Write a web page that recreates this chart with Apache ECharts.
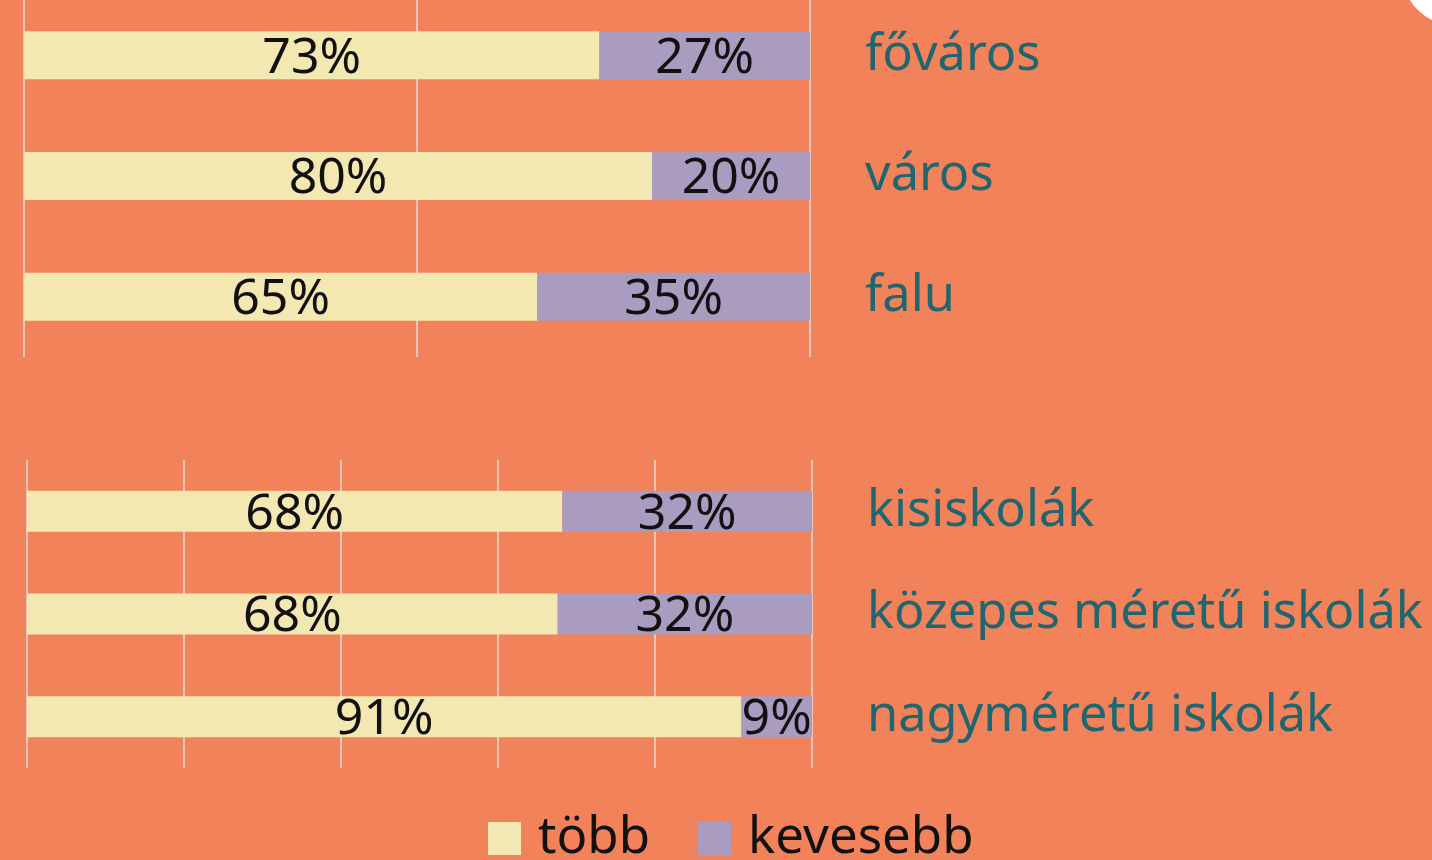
<!DOCTYPE html>
<html><head><meta charset="utf-8">
<script src="https://cdn.jsdelivr.net/npm/echarts@6/dist/echarts.min.js"></script>
<style>html,body{margin:0;padding:0;background:#F28259;}#c{width:1432px;height:860px;}</style>
</head><body><div id="c"></div>
<script>
const topCategories = ['főváros', 'város', 'falu'];
const topMore = [73.2, 79.9, 65.3];
const topLess = [26.8, 20.1, 34.7];
const bottomCategories = ['kisiskolák', 'közepes méretű iskolák', 'nagyméretű iskolák'];
const bottomMore = [68.2, 67.6, 91.0];
const bottomLess = [31.8, 32.4, 9.0];
const seriesNames = ['több', 'kevesebb'];

const FONT = 'Noto Sans';
const cMore = '#F3E8B2', cLess = '#AA9CC0', teal = '#1F6670', gridC = '#E9C6B6';
const chart = echarts.init(document.getElementById('c'));
const lbl = {show: true, position: 'inside', offset: [0, 3], color: '#111', fontSize: 50, fontFamily: FONT,
  formatter: p => Math.round(p.value) + '%'};
function xAx(gi, interval) {
  return {gridIndex: gi, type: 'value', min: 0, max: 100, interval: interval,
    axisLabel: {show: false}, axisTick: {show: false}, axisLine: {show: false},
    splitLine: {show: true, lineStyle: {color: gridC, width: 2}}};
}
function yAx(gi, cats) {
  return {gridIndex: gi, type: 'category', data: cats, inverse: true, position: 'right',
    axisLine: {show: false}, axisTick: {show: false},
    axisLabel: {color: teal, fontSize: 50.5, fontFamily: FONT, margin: 55, align: 'left'}};
}
chart.setOption({
  backgroundColor: '#F28259',
  animation: false,
  grid: [
    {left: 24, right: 622, top: -5, height: 362, outerBoundsMode: 'none', containLabel: false},
    {left: 27, right: 620, top: 460, height: 308, outerBoundsMode: 'none', containLabel: false}
  ],
  xAxis: [xAx(0, 50), xAx(1, 20)],
  yAxis: [yAx(0, topCategories), yAx(1, bottomCategories)],
  legend: {bottom: -9, left: 483, itemWidth: 33, itemHeight: 33, itemGap: 48,
    data: seriesNames, icon: 'rect',
    textStyle: {fontSize: 51, fontFamily: FONT, color: '#111', padding: [0, 0, 0, 12]}},
  series: [
    {name: seriesNames[0], type: 'bar', stack: 'a', xAxisIndex: 0, yAxisIndex: 0, data: topMore, barWidth: 48, itemStyle: {color: cMore}, label: lbl},
    {name: seriesNames[1], type: 'bar', stack: 'a', xAxisIndex: 0, yAxisIndex: 0, data: topLess, barWidth: 48, itemStyle: {color: cLess}, label: lbl},
    {name: seriesNames[0], type: 'bar', stack: 'b', xAxisIndex: 1, yAxisIndex: 1, data: bottomMore, barWidth: 41, itemStyle: {color: cMore}, label: lbl},
    {name: seriesNames[1], type: 'bar', stack: 'b', xAxisIndex: 1, yAxisIndex: 1, data: bottomLess, barWidth: 41, itemStyle: {color: cLess}, label: lbl}
  ],
  graphic: [{type: 'polygon', shape: {points: [[1410,0],[1414,6],[1419,11],[1425,16],[1432,20],[1432,0]]}, style: {fill: '#fff'}}]
});
</script></body></html>
